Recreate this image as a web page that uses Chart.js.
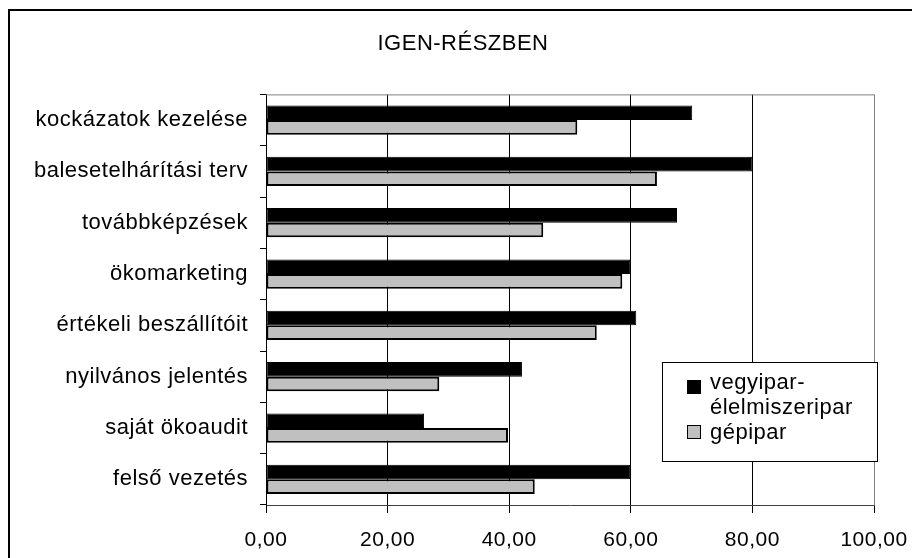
<!DOCTYPE html>
<html>
<head>
<meta charset="utf-8">
<script src="https://cdn.jsdelivr.net/npm/chart.js@4.4.1/dist/chart.umd.min.js"></script>
<style>
    html, body { margin: 0; padding: 0; background: #fff; }
    canvas { display: block; }
</style>
</head>
<body>
<canvas id="igenChart" width="912" height="558"></canvas>
<script>
// ================= DATA =================
let categories = [
    "kockázatok kezelése",
    "balesetelhárítási terv",
    "továbbképzések",
    "ökomarketing",
    "értékeli beszállítóit",
    "nyilvános jelentés",
    "saját ökoaudit",
    "felső vezetés"
];

let vegyiparValues = [70.1, 80.0, 67.6, 59.9, 60.9, 42.1, 26.0, 59.9];

let gepiparValues = [51.2, 64.3, 45.6, 58.6, 54.4, 28.5, 39.8, 44.2];

let seriesNames = ["vegyipar-élelmiszeripar", "gépipar"];

let xTickLabels = ["0,00", "20,00", "40,00", "60,00", "80,00", "100,00"];

let chartTitle = "IGEN-RÉSZBEN";

const FONT = "'Liberation Sans', Arial, sans-serif";

// ================= PLUGINS =================
// white page, slightly stretched text like the original
let pagePlugin = {
    id: "page",
    beforeDraw(chart){
        let ctx = chart.ctx;
        ctx.save();
        ctx.fillStyle = "#fff";
        ctx.fillRect(0, 0, chart.width, chart.height);
        ctx.restore();
        ctx.letterSpacing = "0.5px";
    },
    afterDraw(chart){
        let ctx = chart.ctx;
        let a = chart.chartArea;
        ctx.save();
        // gray top edge of plot area
        ctx.strokeStyle = "#808080";
        ctx.lineWidth = 1;
        ctx.beginPath();
        ctx.moveTo(a.left, a.top + 0.5);
        ctx.lineTo(a.right, a.top + 0.5);
        ctx.stroke();
        // outer frame
        ctx.strokeStyle = "#000";
        ctx.lineWidth = 2;
        ctx.strokeRect(9, 10, 920, 570);
        ctx.restore();
    }
};

// legend box inside the plot
let boxLegend = {
    id: "boxLegend",
    afterDraw(chart){
        let ctx = chart.ctx;
        let sets = chart.data.datasets;
        ctx.save();
        ctx.letterSpacing = "0.5px";
        ctx.fillStyle = "#fff";
        ctx.fillRect(662, 362, 215, 99);
        ctx.strokeStyle = "#000";
        ctx.lineWidth = 1;
        ctx.strokeRect(662.5, 362.5, 215, 99);

        ctx.font = "22px " + FONT;
        ctx.textBaseline = "alphabetic";
        ctx.textAlign = "left";

        // first series, label broken after the hyphen
        let first = sets[0].label;
        let cut = first.indexOf("-") + 1;
        ctx.fillStyle = sets[0].backgroundColor;
        ctx.fillRect(687, 380, 14, 14);
        ctx.strokeRect(687.5, 380.5, 13, 13);
        ctx.fillStyle = "#000";
        ctx.fillText(first.slice(0, cut), 710, 389);
        ctx.fillText(first.slice(cut), 710, 414);

        // second series
        ctx.fillStyle = sets[1].backgroundColor;
        ctx.fillRect(687, 425, 14, 14);
        ctx.strokeRect(687.5, 425.5, 13, 13);
        ctx.fillStyle = "#000";
        ctx.fillText(sets[1].label, 710, 439);
        ctx.restore();
    }
};

// ================= CHART =================
let ctx = document.getElementById("igenChart");

window.igenChartInstance = new Chart(ctx, {

    type: "bar",

    data: {
        labels: categories,
        datasets: [{
            label: seriesNames[0],
            data: vegyiparValues,
            backgroundColor: "#000000",
            borderColor: "#000000",
            borderWidth: 1,
            borderSkipped: false,
            categoryPercentage: 0.57,
            barPercentage: 1
        }, {
            label: seriesNames[1],
            data: gepiparValues,
            backgroundColor: "#c0c0c0",
            borderColor: "#000000",
            borderWidth: 2,
            borderSkipped: false,
            categoryPercentage: 0.57,
            barPercentage: 1
        }]
    },

    options: {
        indexAxis: "y",
        responsive: false,
        animation: false,
        devicePixelRatio: 1,
        layout: {
            padding: { left: 14, right: 0, top: 0, bottom: 0 }
        },
        plugins: {
            legend: { display: false },
            tooltip: { enabled: false },
            title: {
                display: true,
                text: chartTitle,
                color: "#000",
                font: { family: FONT, size: 22, weight: "normal" },
                padding: { top: 31, bottom: 37 }
            }
        },
        scales: {
            x: {
                min: 0,
                max: 100,
                afterFit(scale){
                    scale.height = 53;
                    scale.paddingRight = 38;
                },
                ticks: {
                    stepSize: 20,
                    color: "#000",
                    padding: 15,
                    maxRotation: 0,
                    font: { family: FONT, size: 21 },
                    callback: (v, i) => xTickLabels[i]
                },
                grid: {
                    color: c => (c.tick && c.tick.value === 100) ? "#808080" : "#000000",
                    tickColor: "#000",
                    tickLength: 8,
                    lineWidth: 1
                },
                border: { color: "#404040", width: 1 }
            },
            y: {
                afterFit(scale){ scale.width = 252; },
                ticks: {
                    color: "#000",
                    padding: 12,
                    autoSkip: false,
                    font: { family: FONT, size: 22 }
                },
                grid: {
                    offset: true,
                    drawOnChartArea: false,
                    drawTicks: true,
                    tickLength: 6,
                    tickColor: "#000"
                },
                border: { color: "#000", width: 1 }
            }
        }
    },

    plugins: [pagePlugin, boxLegend]

});
</script>
</body>
</html>
